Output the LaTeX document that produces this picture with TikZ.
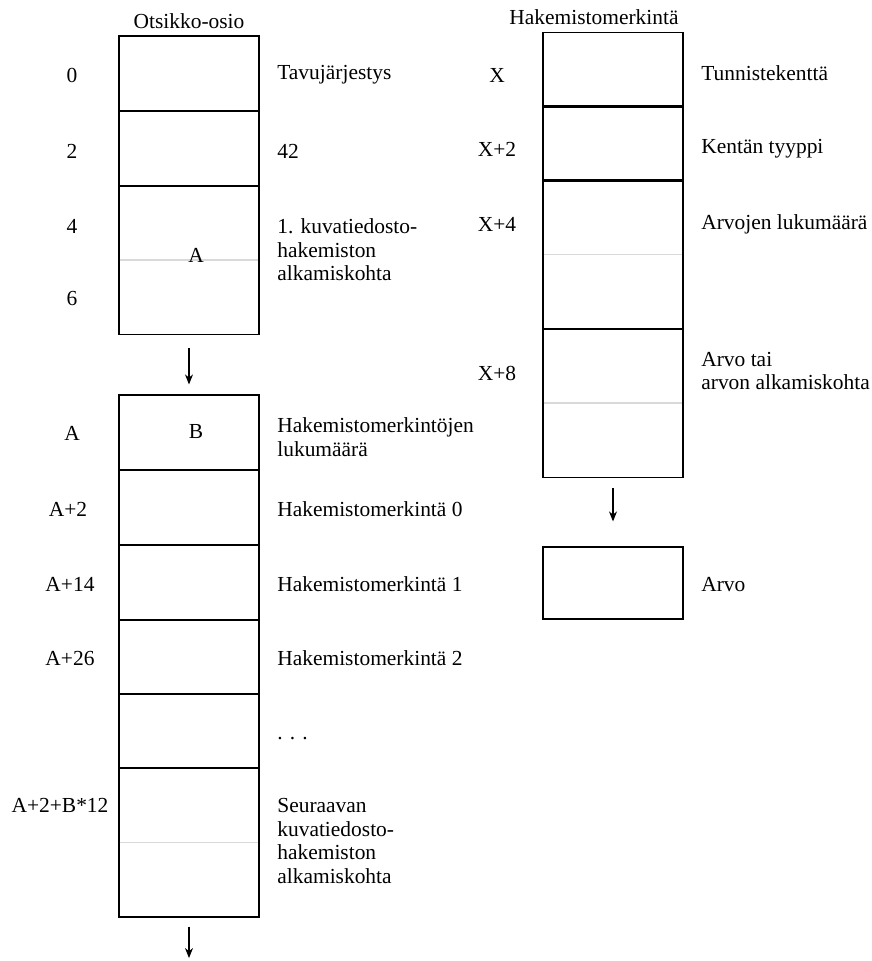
\documentclass[tikz,border=0pt]{standalone}
\usepackage{fontspec}
\setmainfont{Liberation Serif}
\usetikzlibrary{arrows.meta}
\tikzset{
	cell/.style={draw,line width=0.7pt,minimum width=28mm,minimum height=15mm,inner sep=0pt},
	tallcell/.style={cell,minimum height=29.8mm},
	halfline/.style={gray!30,line width=0.8pt,shorten <=0.7pt,shorten >=0.7pt},
	link/.style={-{Stealth[length=2mm,width=1.6mm]},line width=0.6pt},
	lbl/.style={anchor=west,align=left,inner sep=0pt},
	offs/.style={inner sep=0pt}
}
\begin{document}
\begin{tikzpicture}[x=0.2mm,y=-0.2mm,font=\fontsize{12.2}{13.4}\selectfont]
	\useasboundingbox (0,0) rectangle (872,961);
%					Otsikko-osio :
	\node[cell] (h0) at (189,73.5) {};
	\node[cell] (h1) at (189,148.5) {};
	\node[tallcell] (h2) at (189,260) {};
	\draw[halfline] (h2.west) -- (h2.east);
	\node[offs] (ttl) at (189,21) {Otsikko-osio};
	\node[offs,anchor=base] (ha) at (196,262) {A};
%					Kuvatiedostohakemisto :
	\node[cell] (ifd0) at (189,432.5) {};
	\node[cell] (ifd1) at (189,507.5) {};
	\node[cell] (ifd2) at (189,582.5) {};
	\node[cell] (ifd3) at (189,657) {};
	\node[cell] (ifd4) at (189,731) {};
	\node[tallcell] (ifd5) at (189,842.5) {};
	\draw[halfline] (ifd5.west) -- (ifd5.east);
	\node[offs] (ib) at (196,432) {B};
	\coordinate (nxt) at (189,958);
	\draw[link,shorten <=2.6mm,shorten >=2mm] (h2.south) -- (ifd0.north);
	\draw[link,shorten <=1.8mm] (ifd5.south) -- (nxt);
%					Siirtymät vasemmalla :
	\node[offs] (o0) at (72,75) {0};
	\node[offs] (o2) at (72,151) {2};
	\node[offs] (o4) at (72,226) {4};
	\node[offs] (o6) at (72,299) {6};
	\node[offs] (oa) at (72,433) {A};
	\node[offs] (oa2) at (68,509) {A+2};
	\node[offs] (oa14) at (70,584) {A+14};
	\node[offs] (oa26) at (70,658) {A+26};
	\node[offs] (oab) at (60,805) {A+2+B*12};
%					Selitteet vasemmalla :
	\node[lbl] (t0) at (277,75) {Tavujärjestys};
	\node[lbl] (t2) at (277,151) {42};
	\node[lbl] (t4) at (277,250) {1. kuvatiedosto-\\hakemiston\\alkamiskohta};
	\node[lbl] (ta) at (277,437) {Hakemistomerkintöjen\\lukumäärä};
	\node[lbl] (ta2) at (277,509) {Hakemistomerkintä 0};
	\node[lbl] (ta14) at (277,584) {Hakemistomerkintä 1};
	\node[lbl] (ta26) at (277,658) {Hakemistomerkintä 2};
	\node[lbl] (tdots) at (277,739) {. . .};
	\node[lbl] (tab) at (277,841) {Seuraavan\\kuvatiedosto-\\hakemiston\\alkamiskohta};
%					Hakemistomerkintä :
	\node[cell] (e0) at (613,70) {};
	\node[cell] (e1) at (613,143.5) {};
	\node[tallcell] (e2) at (613,254.5) {};
	\draw[halfline] (e2.west) -- (e2.east);
	\node[tallcell] (e3) at (613,403) {};
	\draw[halfline] (e3.west) -- (e3.east);
	\node[offs] (ettl) at (594,17) {Hakemistomerkintä};
	\node[cell,minimum height=14.4mm] (val) at (613,583) {};
	\draw[link,shorten <=2mm,shorten >=5mm] (e3.south) -- (val.north);
%					Siirtymät oikealla :
	\node[offs] (x0) at (497,75) {X};
	\node[offs] (x2) at (497,149) {X+2};
	\node[offs] (x4) at (497,224) {X+4};
	\node[offs] (x8) at (497,373) {X+8};
%					Selitteet oikealla :
	\node[lbl] (u0) at (701,73) {Tunnistekenttä};
	\node[lbl] (u2) at (701,149) {Kentän tyyppi};
	\node[lbl] (u4) at (701,224) {Arvojen lukumäärä};
	\node[lbl] (u8) at (701,371) {Arvo tai\\arvon alkamiskohta};
	\node[lbl] (uval) at (701,585) {Arvo};
\end{tikzpicture}
\end{document}
